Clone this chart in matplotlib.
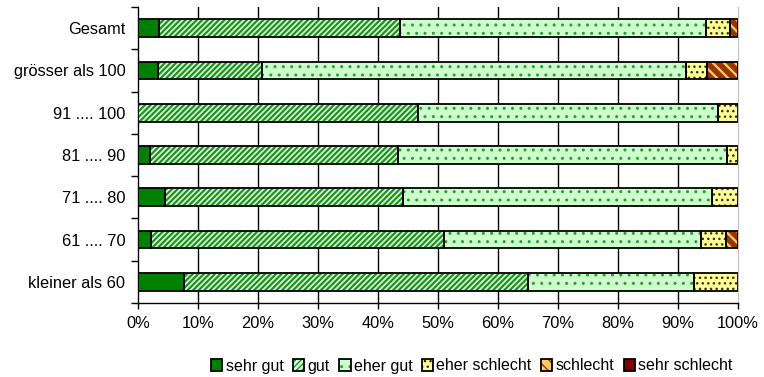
import matplotlib
matplotlib.use("Agg")
import matplotlib.pyplot as plt
from matplotlib.patches import Patch
from matplotlib.legend_handler import HandlerTuple
import numpy as np

plt.rcParams['font.family'] = ['Liberation Sans', 'DejaVu Sans']

categories = ["Gesamt", "grösser als 100", "91 .... 100", "81 .... 90",
              "71 .... 80", "61 .... 70", "kleiner als 60"]
series_names = ["sehr gut", "gut", "eher gut", "eher schlecht", "schlecht", "sehr schlecht"]

sehr_gut      = [3.5, 3.4, 0.0, 2.0, 4.5, 2.1, 7.6]
gut           = [40.1, 17.3, 46.7, 41.4, 39.7, 48.9, 57.4]
eher_gut      = [51.1, 70.7, 50.0, 54.7, 51.4, 42.9, 27.6]
eher_schlecht = [4.0, 3.5, 3.3, 1.9, 4.4, 4.1, 7.4]
schlecht      = [1.3, 5.1, 0.0, 0.0, 0.0, 2.0, 0.0]
sehr_schlecht = [0.0, 0.0, 0.0, 0.0, 0.0, 0.0, 0.0]
series = [sehr_gut, gut, eher_gut, eher_schlecht, schlecht, sehr_schlecht]

# style: (face, hatch colour, hatch, hatch linewidth)
styles = [
    ("#008000", None, None, 1.0),
    ("#D8FFD8", "#209020", "//////", 1.6),
    ("#CCFFCC", "#339933", "..", 1.0),
    ("#FFFF99", "#333300", "...", 1.0),
    ("#FFCC66", "#993300", "\\\\\\", 4.0),
    ("#800000", None, None, 1.0),
]

fig = plt.figure(figsize=(7.64, 3.77), dpi=100)
ax = fig.add_axes([138/764, 74/377, 600/764, 296/377])

y = np.arange(len(categories))
left = np.zeros(len(categories))
bar_h = 0.42
handles = []
for vals, name, (face, hc, hatch, hlw) in zip(series, series_names, styles):
    vals = np.array(vals)
    if hc is not None:
        with plt.rc_context({'hatch.linewidth': hlw}):
            hb = ax.barh(y, vals, left=left, height=bar_h, color=face,
                         edgecolor=hc, hatch=hatch, linewidth=0, zorder=3)
        for p in hb:
            if hasattr(p, 'set_hatch_linewidth'):
                p.set_hatch_linewidth(hlw)
    else:
        ax.barh(y, vals, left=left, height=bar_h, color=face, linewidth=0, zorder=3)
    mask = vals > 0
    ax.barh(y[mask], vals[mask], left=left[mask], height=bar_h, fill=False,
            edgecolor="black", linewidth=1.3, zorder=4)
    left = left + vals
    # legend handle
    if hc is not None:
        with plt.rc_context({'hatch.linewidth': hlw}):
            h1 = Patch(facecolor=face, edgecolor=hc, hatch=hatch, linewidth=0)
        if hasattr(h1, 'set_hatch_linewidth'):
            h1.set_hatch_linewidth(hlw)
    else:
        h1 = Patch(facecolor=face, linewidth=0)
    h2 = Patch(fill=False, edgecolor="black", linewidth=1.3)
    handles.append((h1, h2))

ax.set_xlim(0, 100)
ax.set_ylim(len(categories) - 0.5, -0.5)
ax.set_xticks(np.arange(0, 101, 10))
ax.set_xticklabels([f"{v}%" for v in range(0, 101, 10)], fontsize=11.8)
ax.set_yticks(y)
ax.set_yticklabels(categories, fontsize=11.8)
ax.set_yticks(np.arange(-0.5, len(categories)), minor=True)
ax.tick_params(axis='y', which='major', length=0, pad=9)
ax.tick_params(axis='y', which='minor', length=5, width=1, color='black', direction='out')
ax.tick_params(axis='x', which='major', length=4, width=1, direction='out', pad=5)

for xv in range(10, 100, 10):
    ax.axvline(xv, color='black', linewidth=1, zorder=1)

ax.spines['top'].set_visible(False)
ax.spines['right'].set_color('#c0c0c0')
ax.spines['left'].set_linewidth(1)
ax.spines['bottom'].set_linewidth(1)

fig.legend(handles, series_names, handler_map={tuple: HandlerTuple(ndivide=1, pad=0)},
           loc='center', bbox_to_anchor=(472/764, 1 - 366/377), ncol=6, frameon=False,
           fontsize=11.5, handlelength=0.7, handleheight=0.7, handletextpad=0.2,
           columnspacing=0.6, borderaxespad=0)

fig.savefig("out.png", dpi=100)
